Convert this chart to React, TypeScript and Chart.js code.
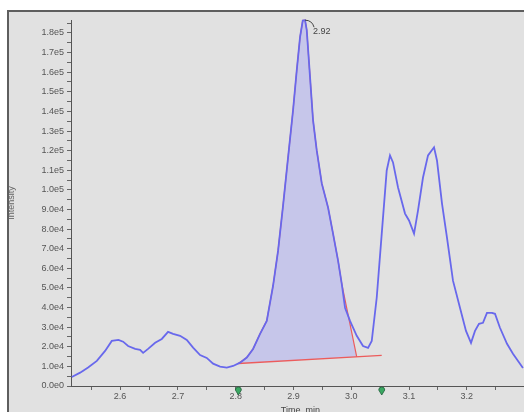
import React, { useEffect, useRef } from 'react';
import { Chart, registerables } from 'chart.js';

Chart.register(...registerables);

// Full chromatogram trace
const timeMin = [
  2.5164, 2.5308, 2.5446, 2.5597, 2.574, 2.5856, 2.5971, 2.6052, 2.6138, 2.626,
  2.6346, 2.6398, 2.6484, 2.6606, 2.6721, 2.683, 2.6917, 2.7038, 2.7154, 2.7263,
  2.7384, 2.75, 2.7609, 2.773, 2.7846, 2.7955, 2.8076, 2.8192, 2.8301, 2.8422,
  2.8538, 2.8647, 2.8734, 2.882, 2.8907, 2.8993, 2.9057, 2.9114, 2.9161, 2.9201,
  2.923, 2.9287, 2.9339, 2.9403, 2.949, 2.9599, 2.9685, 2.9772, 2.9836, 2.9893,
  2.9979, 3.0095, 3.0204, 3.0291, 3.0355, 3.0441, 3.0528, 3.0614, 3.0671, 3.0723,
  3.081, 3.0931, 3.1, 3.1087, 3.1156, 3.1242, 3.1329, 3.1433, 3.1484, 3.1571,
  3.1657, 3.1761, 3.1882, 3.1986, 3.2073, 3.2142, 3.2211, 3.228, 3.2349, 3.2436,
  3.2488, 3.2574, 3.2696, 3.2799, 3.2972,
];
const intensity = [
  4600, 6800, 9400, 12800, 17900, 23000, 23500, 22600, 20400, 18900,
  18400, 16900, 18900, 22000, 24000, 27600, 26600, 25600, 23500, 19600,
  15800, 14300, 11400, 9900, 9400, 10200, 11900, 14500, 18900, 26600,
  33200, 51100, 69000, 92000, 116600, 140600, 161000, 177900, 186300, 186500,
  181500, 157500, 135500, 120100, 103300, 91000, 77700, 63900, 52100, 39900,
  33200, 25600, 20400, 19400, 23000, 45000, 77700, 109900, 117600, 114000,
  101200, 87900, 84400, 77700, 89500, 106300, 117600, 121700, 115000, 93000,
  75700, 53700, 39900, 28100, 22000, 28100, 31700, 32200, 37300, 37300,
  36800, 29700, 21500, 16400, 9200,
];

// Integrated peak outline (area down to the baseline)
const peakTimes = [
  2.8047, 2.8192, 2.8301, 2.8422, 2.8538, 2.8647, 2.8734, 2.882, 2.8907, 2.8993,
  2.9057, 2.9114, 2.9161, 2.9201, 2.923, 2.9287, 2.9339, 2.9403, 2.949, 2.9599,
  2.9685, 2.9772, 2.9836, 3.0095,
];
const peakIntensity = [
  11500, 14500, 18900, 26600, 33200, 51100, 69000, 92000, 116600, 140600,
  161000, 177900, 186300, 186500, 181500, 157500, 135500, 120100, 103300, 91000,
  77700, 63900, 52100, 14900,
];

// Integration baseline
const baselineTimes = [2.8047, 3.0528];
const baselineIntensity = [11500, 15600];

const peakLabel = '2.92';
const xMajorTicks = [2.6, 2.7, 2.8, 2.9, 3.0, 3.1, 3.2];
const xMinorTicks = [2.55, 2.65, 2.75, 2.85, 2.95, 3.05, 3.15, 3.25];
const yMajorTicks = [
  0, 10000, 20000, 30000, 40000, 50000, 60000, 70000, 80000, 90000,
  100000, 110000, 120000, 130000, 140000, 150000, 160000, 170000, 180000,
];
const yMinorTicks = [
  5000, 15000, 25000, 35000, 45000, 55000, 65000, 75000, 85000, 95000,
  105000, 115000, 125000, 135000, 145000, 155000, 165000, 175000, 185000,
];
const xTitle = 'Time, min';
const yTitle = 'Intensity';

const X_MIN = 2.515;
const X_MAX = 3.299;
const Y_MAX = 186600;

const FONT = '"Liberation Sans", Arial, sans-serif';
const BLUE = 'rgb(104,104,236)';
const RED = 'rgb(236,92,92)';
const FILL = 'rgb(198,198,234)';

const isIn = (arr: number[], v: number, tol: number) => arr.some((a) => Math.abs(a - v) < tol);

const framePlugin = {
  id: 'frame',
  beforeDraw(chart: any) {
    const { ctx, width, height } = chart;
    ctx.save();
    ctx.fillStyle = '#ffffff';
    ctx.fillRect(0, 0, width, height);
    ctx.fillStyle = '#e1e1e1';
    ctx.fillRect(7, 10, width - 7, height - 10);
    ctx.strokeStyle = '#5e5e5e';
    ctx.lineWidth = 2;
    ctx.beginPath();
    ctx.moveTo(8, height);
    ctx.lineTo(8, 11);
    ctx.lineTo(width, 11);
    ctx.stroke();
    ctx.restore();
  },
  afterDraw(chart: any) {
    const { ctx, chartArea, scales } = chart;
    const xs = scales.x;
    const ys = scales.y;
    ctx.save();
    // y title (mostly hidden behind the frame)
    ctx.save();
    ctx.beginPath();
    ctx.rect(9, 0, 40, chart.height);
    ctx.clip();
    ctx.translate(14, 203);
    ctx.rotate(-Math.PI / 2);
    ctx.font = `9px ${FONT}`;
    ctx.fillStyle = '#666';
    ctx.textAlign = 'center';
    ctx.textBaseline = 'alphabetic';
    ctx.fillText(yTitle, 0, 0);
    ctx.restore();

    // x title
    ctx.font = `9px ${FONT}`;
    ctx.fillStyle = '#444';
    ctx.textAlign = 'center';
    ctx.textBaseline = 'alphabetic';
    ctx.fillText(xTitle, xs.getPixelForValue(2.912), chartArea.bottom + 27);

    // peak label with connector
    let pi = 0;
    intensity.forEach((v, i) => {
      if (v > intensity[pi]) pi = i;
    });
    const px = xs.getPixelForValue(timeMin[pi]);
    const py = ys.getPixelForValue(intensity[pi]);
    ctx.strokeStyle = '#444';
    ctx.lineWidth = 1;
    ctx.beginPath();
    ctx.moveTo(px, py);
    ctx.quadraticCurveTo(px + 7, py, px + 9, py + 7);
    ctx.stroke();
    ctx.font = `9px ${FONT}`;
    ctx.fillStyle = '#444';
    ctx.textAlign = 'left';
    ctx.textBaseline = 'middle';
    ctx.fillText(peakLabel, px + 8, py + 11);

    // green integration markers
    [baselineTimes[0], baselineTimes[baselineTimes.length - 1]].forEach((t) => {
      const mx = xs.getPixelForValue(t);
      const my = chartArea.bottom + 4;
      ctx.beginPath();
      ctx.moveTo(mx - 3, my);
      ctx.arc(mx, my, 3, Math.PI, 0, false);
      ctx.lineTo(mx, my + 5);
      ctx.closePath();
      ctx.fillStyle = '#3aa862';
      ctx.fill();
      ctx.strokeStyle = '#1f5e3a';
      ctx.lineWidth = 0.8;
      ctx.stroke();
    });
    ctx.restore();
  },
};

export default function App() {
  const canvasRef = useRef<HTMLCanvasElement | null>(null);

  useEffect(() => {
    if (!canvasRef.current) return;
    const mainData = timeMin.map((t, i) => ({ x: t, y: intensity[i] }));
    const peakData = peakTimes.map((t, i) => ({ x: t, y: peakIntensity[i] }));
    const baseData = baselineTimes.map((t, i) => ({ x: t, y: baselineIntensity[i] }));

    const chart = new Chart(canvasRef.current, {
      type: 'line',
      data: {
        datasets: [
          {
            data: mainData,
            borderColor: BLUE,
            borderWidth: 1.8,
            pointRadius: 0,
            fill: false,
            tension: 0,
            order: 0,
            clip: false as any,
          },
          {
            data: peakData,
            borderColor: RED,
            borderWidth: 1.2,
            pointRadius: 0,
            fill: { target: 2, above: FILL, below: FILL } as any,
            backgroundColor: FILL,
            tension: 0,
            order: 2,
            clip: false as any,
          },
          {
            data: baseData,
            borderColor: RED,
            borderWidth: 1.4,
            pointRadius: 0,
            fill: false,
            tension: 0,
            order: 1,
          },
        ],
      },
      options: {
        responsive: false,
        maintainAspectRatio: false,
        animation: false,
        devicePixelRatio: 1,
        layout: { padding: { left: 0, right: 0, top: 20, bottom: 0 } },
        plugins: {
          legend: { display: false },
          tooltip: { enabled: false },
          title: { display: false },
        },
        scales: {
          x: {
            type: 'linear',
            min: X_MIN,
            max: X_MAX,
            afterBuildTicks: (scale: any) => {
              scale.ticks = [...xMajorTicks, ...xMinorTicks]
                .sort((a, b) => a - b)
                .map((v) => ({ value: v }));
            },
            afterFit: (scale: any) => {
              scale.height = 26;
            },
            ticks: {
              autoSkip: false,
              maxRotation: 0,
              minRotation: 0,
              padding: 1,
              color: '#555',
              font: { family: FONT, size: 9 },
              callback: (v: any) => (isIn(xMajorTicks, Number(v), 1e-6) ? Number(v).toFixed(1) : ''),
            },
            grid: {
              display: true,
              drawOnChartArea: false,
              drawTicks: true,
              tickLength: 4,
              tickColor: '#666',
            },
            border: { display: true, color: '#555', width: 1 },
          },
          y: {
            type: 'linear',
            min: 0,
            max: Y_MAX,
            afterBuildTicks: (scale: any) => {
              scale.ticks = [...yMajorTicks, ...yMinorTicks]
                .sort((a, b) => a - b)
                .map((v) => ({ value: v }));
            },
            afterFit: (scale: any) => {
              scale.width = 71;
            },
            ticks: {
              autoSkip: false,
              padding: 3,
              color: '#555',
              font: { family: FONT, size: 9 },
              callback: (v: any) =>
                isIn(yMajorTicks, Number(v), 1) ? Number(v).toExponential(1).replace('e+', 'e') : '',
            },
            grid: {
              display: true,
              drawOnChartArea: false,
              drawTicks: true,
              tickLength: 4,
              tickColor: '#666',
            },
            border: { display: true, color: '#555', width: 1 },
          },
        },
      },
      plugins: [framePlugin],
    });
    return () => chart.destroy();
  }, []);

  return (
    <div style={{ position: 'absolute', left: 0, top: 0, width: 524, height: 412 }}>
      <canvas ref={canvasRef} width={524} height={412} style={{ display: 'block', width: 524, height: 412 }} />
    </div>
  );
}
